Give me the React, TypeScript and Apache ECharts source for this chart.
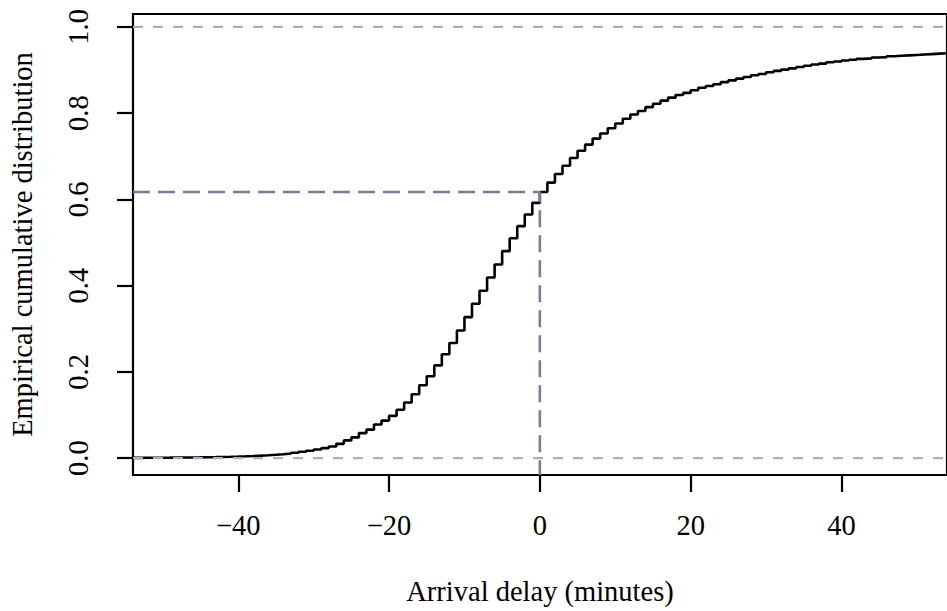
import React, { useEffect, useRef } from "react";
import * as echarts from "echarts";

// Empirical CDF of arrival delay, read at each whole minute from -54 to 54
const delayStart = -54;
const ecdfValues = [
  0.0006, 0.0007, 0.0008, 0.0009, 0.001, 0.0012, 0.0013, 0.0015, 0.0017, 0.002,
  0.0023, 0.0027, 0.0031, 0.0036, 0.0042, 0.0049, 0.0057, 0.0067, 0.0078, 0.0091,
  0.0107, 0.0125, 0.0146, 0.0171, 0.0199, 0.0231, 0.0268, 0.033, 0.041, 0.048,
  0.058, 0.066, 0.078, 0.087, 0.098, 0.112, 0.129, 0.148, 0.169, 0.19,
  0.215, 0.241, 0.267, 0.296, 0.327, 0.358, 0.388, 0.419, 0.449, 0.48,
  0.51, 0.538, 0.565, 0.592, 0.617, 0.639, 0.659, 0.678, 0.696, 0.713,
  0.727, 0.741, 0.753, 0.765, 0.776, 0.787, 0.797, 0.805, 0.814, 0.822,
  0.829, 0.836, 0.842, 0.847, 0.853, 0.859, 0.863, 0.867, 0.872, 0.876,
  0.88, 0.884, 0.888, 0.891, 0.895, 0.898, 0.901, 0.904, 0.907, 0.91,
  0.913, 0.915, 0.918, 0.92, 0.922, 0.924, 0.926, 0.927, 0.929, 0.93,
  0.932, 0.933, 0.934, 0.935, 0.936, 0.937, 0.938, 0.939, 0.94,
];
const medianDelay = 0;
const medianLevel = 0.617;
const xTicks = [-40, -20, 0, 20, 40];
const yTicks = [0, 0.2, 0.4, 0.6, 0.8, 1.0];
const refLevels = [0, 1];

const X_MIN = -53.96;
const X_MAX = 54;
const Y_MIN = -0.0392;
const Y_MAX = 1.03;

const FONT = "Liberation Serif";
const FS = 28.5;

export default function App() {
  const ref = useRef<HTMLDivElement>(null);
  useEffect(() => {
    if (!ref.current) return;
    const chart = echarts.init(ref.current, null, { renderer: "svg" });
    const curve = ecdfValues.map((v, i) => [delayStart + i, v]);
    const lightColor = "#a3b2ca";
    const darkColor = "#737f95";
    const series: any[] = [
      {
        type: "line",
        name: "ecdf",
        data: curve,
        step: "end",
        symbol: "none",
        lineStyle: { color: "#000", width: 2.6 },
        clip: true,
        z: 2,
      },
    ];
    refLevels.forEach((lvl) => {
      series.push({
        type: "line",
        data: [
          [X_MIN, lvl],
          [X_MAX, lvl],
        ],
        symbol: "none",
        lineStyle: { color: lightColor, width: 2.2, type: [10, 10] },
        clip: true,
        silent: true,
        z: 3,
      });
    });
    series.push({
      type: "line",
      data: [
        [X_MIN, medianLevel],
        [medianDelay, medianLevel],
        [medianDelay, Y_MIN],
      ],
      symbol: "none",
      lineStyle: { color: darkColor, width: 2.6, type: [17, 8] },
      clip: true,
      silent: true,
      z: 3,
    });
    chart.setOption({
      animation: false,
      backgroundColor: "#fff",
      textStyle: { fontFamily: FONT },
      grid: {
        left: 131,
        top: 14,
        width: 822.4,
        height: 464,
        show: true,
        borderColor: "#000",
        borderWidth: 2.2,
        backgroundColor: "transparent",
        containLabel: false,
      },
      xAxis: {
        type: "value",
        min: X_MIN,
        max: X_MAX,
        position: "bottom",
        name: "Arrival delay (minutes)",
        nameLocation: "middle",
        nameGap: 102,
        nameTextStyle: { fontFamily: FONT, fontSize: FS, color: "#000" },
        axisLine: { show: false, onZero: false },
        splitLine: { show: false },
        axisTick: {
          show: true,
          length: 17,
          customValues: xTicks,
          lineStyle: { color: "#000", width: 2.2 },
        },
        axisLabel: {
          customValues: xTicks,
          margin: 36,
          fontFamily: FONT,
          fontSize: FS,
          color: "#000",
          formatter: (v: number) => String(v).replace("-", "\u2212"),
        },
      },
      yAxis: {
        type: "value",
        min: Y_MIN,
        max: Y_MAX,
        position: "left",
        name: "Empirical cumulative distribution",
        nameLocation: "middle",
        nameGap: 96,
        nameTextStyle: { fontFamily: FONT, fontSize: FS, color: "#000" },
        axisLine: { show: false, onZero: false },
        splitLine: { show: false },
        axisTick: {
          show: true,
          length: 16,
          customValues: yTicks,
          lineStyle: { color: "#000", width: 2.2 },
        },
        axisLabel: {
          customValues: yTicks,
          rotate: 90,
          margin: 40,
          fontFamily: FONT,
          fontSize: FS,
          color: "#000",
          formatter: (v: number) => v.toFixed(1),
        },
      },
      series,
    });
    return () => chart.dispose();
  }, []);
  return <div ref={ref} style={{ width: 947, height: 611, position: "absolute", left: 0, top: 0 }} />;
}
